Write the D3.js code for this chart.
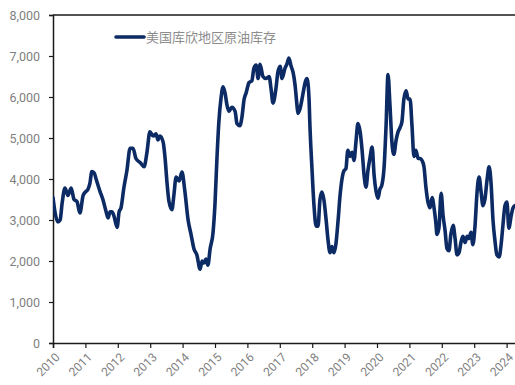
<!DOCTYPE html>
<html><head><meta charset="utf-8">
<script src="https://cdn.jsdelivr.net/npm/d3@7/dist/d3.min.js"></script>
<style>body{margin:0;background:#fff}svg{display:block}</style>
</head><body><svg id="c" width="515" height="385"></svg>
<script>
const seriesName = "美国库欣地区原油库存";
const yTicks = [0,1000,2000,3000,4000,5000,6000,7000,8000];
const xTickYears = [2010,2011,2012,2013,2014,2015,2016,2017,2018,2019,2020,2021,2022,2023,2024];
const years = [2010.00,2010.06,2010.15,2010.22,2010.28,2010.37,2010.46,2010.56,2010.65,2010.74,2010.83,2010.93,
2011.02,2011.08,2011.14,2011.20,2011.27,2011.33,2011.45,2011.54,2011.64,2011.70,2011.76,2011.82,2011.88,2011.98,
2012.04,2012.10,2012.19,2012.28,2012.38,2012.47,2012.56,2012.69,2012.81,2012.90,2012.99,
2013.09,2013.18,2013.24,2013.30,2013.40,2013.46,2013.52,2013.58,2013.67,2013.73,2013.80,2013.89,2013.98,
2014.07,2014.17,2014.26,2014.35,2014.44,2014.54,2014.60,2014.66,2014.72,2014.78,2014.85,2014.94,
2015.00,2015.06,2015.12,2015.19,2015.25,2015.31,2015.37,2015.43,2015.52,2015.62,2015.68,2015.77,2015.83,2015.90,2015.96,
2016.05,2016.14,2016.20,2016.27,2016.33,2016.39,2016.48,2016.57,2016.67,2016.73,2016.79,2016.88,2016.94,
2017.01,2017.07,2017.16,2017.22,2017.28,2017.35,2017.41,2017.47,2017.53,2017.56,2017.62,2017.72,2017.78,2017.84,2017.90,2017.93,2017.99,
2018.06,2018.12,2018.18,2018.24,2018.30,2018.36,2018.43,2018.49,2018.55,2018.61,2018.67,2018.73,2018.80,2018.86,2018.92,2018.98,
2019.04,2019.10,2019.17,2019.23,2019.29,2019.35,2019.41,2019.48,2019.54,2019.60,2019.66,2019.72,2019.78,2019.85,2019.91,2019.97,
2020.03,2020.09,2020.15,2020.22,2020.28,2020.34,2020.40,2020.46,2020.52,2020.59,2020.65,2020.71,2020.77,2020.83,2020.90,2020.96,
2021.02,2021.08,2021.14,2021.20,2021.27,2021.33,2021.39,2021.45,2021.51,2021.57,2021.64,2021.70,2021.76,2021.82,2021.85,2021.91,2021.98,
2022.04,2022.10,2022.16,2022.22,2022.28,2022.35,2022.41,2022.47,2022.53,2022.59,2022.65,2022.72,2022.78,2022.84,2022.90,2022.96,
2023.02,2023.09,2023.15,2023.21,2023.27,2023.33,2023.40,2023.46,2023.52,2023.58,2023.64,2023.70,2023.77,2023.83,2023.89,2023.95,
2024.01,2024.07,2024.14,2024.20,2024.26];
const values = [3550,3200,2950,3000,3400,3780,3600,3780,3500,3450,3170,3600,
3700,3750,3900,4180,4150,4000,3700,3500,3200,3050,3200,3200,3100,2820,
3200,3300,3800,4200,4750,4750,4500,4400,4300,4650,5150,
5050,5100,4950,5050,4900,4500,3900,3450,3250,3600,4050,3950,4170,
3700,3000,2650,2300,2150,1800,2000,1950,2050,1900,2300,2700,
3400,4500,5400,6000,6250,6100,5800,5650,5750,5650,5350,5300,5500,5950,6100,
6350,6400,6700,6780,6450,6800,6500,6450,6500,6200,5850,6200,6600,
6750,6450,6700,6800,6950,6750,6600,6300,5800,5600,5700,6100,6350,6450,6000,5300,4300,
3300,2850,2850,3500,3680,3500,3000,2500,2200,2350,2200,2400,3000,3600,4000,4200,
4250,4700,4550,4650,4450,4900,5350,5150,4700,4100,3800,4200,4500,4780,4100,3700,
3530,3750,3850,4300,5300,6550,5800,4900,4600,4950,5150,5250,5400,5950,6150,5950,
5950,5300,4550,4700,4500,4500,4450,4300,3800,3450,3300,3550,3300,2900,2650,2800,3650,
3100,2750,2300,2250,2650,2870,2550,2150,2200,2450,2600,2450,2600,2550,2700,2400,
2800,3700,4050,3700,3350,3500,4000,4300,3900,3000,2500,2150,2100,2400,2900,3350,
3440,2800,3100,3300,3350];

const svg = d3.select("#c");
const mLeft = 53, mTop = 15, mBottom = 343, pxPerYear = 32.4;
const x = d3.scaleLinear().domain([2010, 2024.5]).range([mLeft, mLeft + 14.5*pxPerYear]);
const y = d3.scaleLinear().domain([0, 8000]).range([mBottom, mTop]);
const textColor = "#7f7f7f", fontFam = "Roboto, 'Liberation Sans', sans-serif";

svg.append("defs").append("clipPath").attr("id","clip")
  .append("rect").attr("x", mLeft).attr("y", 0).attr("width", 515-mLeft).attr("height", mBottom);

// top border
svg.append("line").attr("x1", mLeft).attr("x2", 515).attr("y1", mTop).attr("y2", mTop)
  .attr("stroke", "#1a1a1a").attr("stroke-width", 1.5);

// y axis
const ya = svg.append("g").attr("transform", `translate(${mLeft},0)`)
  .call(d3.axisLeft(y).tickValues(yTicks).tickSize(4).tickPadding(9).tickFormat(d3.format(",")));
ya.select(".domain").attr("stroke", "#1a1a1a").attr("stroke-width", 1.5);
ya.selectAll(".tick line").attr("stroke", "#1a1a1a").attr("stroke-width", 1.2);
ya.selectAll("text").attr("fill", textColor).style("font-family", fontFam).style("font-size", "12.5px");

// x axis
const xa = svg.append("g").attr("transform", `translate(0,${mBottom})`)
  .call(d3.axisBottom(x).tickValues(xTickYears).tickSize(5).tickFormat(d3.format("d")));
xa.select(".domain").attr("stroke", "#1a1a1a").attr("stroke-width", 1.5);
xa.selectAll(".tick line").attr("stroke", "#1a1a1a").attr("stroke-width", 1.2);
xa.selectAll("text").attr("fill", textColor).style("font-family", fontFam).style("font-size", "12px")
  .attr("text-anchor", "end").attr("dy", "0.35em").attr("y", 0)
  .attr("transform", "translate(4,12) rotate(-45)");

// line
const line = d3.line().x((d,i) => x(years[i])).y(d => y(d)).curve(d3.curveMonotoneX);
svg.append("path").datum(values).attr("clip-path", "url(#clip)")
  .attr("d", line).attr("fill", "none").attr("stroke", "#0c2a63")
  .attr("stroke-width", 3.6).attr("stroke-linejoin", "round").attr("stroke-linecap", "round");

// legend
const lg = svg.append("g");
lg.append("line").attr("x1", 116).attr("x2", 144).attr("y1", 37).attr("y2", 37)
  .attr("stroke", "#0c2a63").attr("stroke-width", 3.6).attr("stroke-linecap","round");
lg.append("text").attr("x", 146).attr("y", 37).attr("dy", "0.36em").text(seriesName)
  .attr("fill", "#8c8c8c").style("font-family", "'Noto Sans CJK SC', sans-serif").style("font-size", "13px");
</script></body></html>
